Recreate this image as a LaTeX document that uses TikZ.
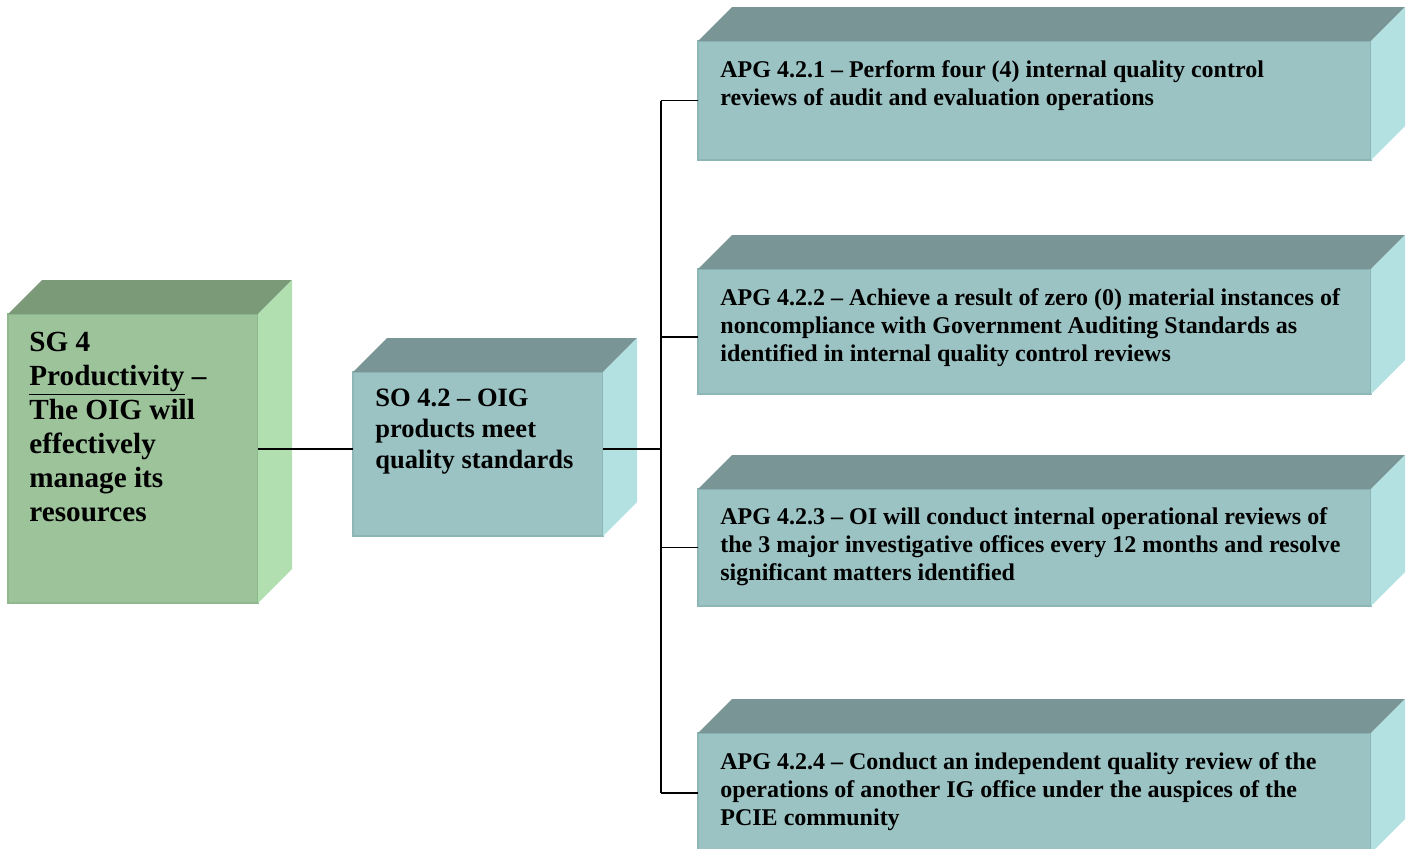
\documentclass[tikz,border=0pt]{standalone}
\usepackage{fontspec}
\setmainfont{Liberation Serif}
\usepackage{xcolor}
\definecolor{greenfront}{HTML}{9CC39A}
\definecolor{greentop}{HTML}{7A9A78}
\definecolor{greenside}{HTML}{B2DFB0}
\definecolor{tealfront}{HTML}{9BC3C4}
\definecolor{tealtop}{HTML}{799595}
\definecolor{tealside}{HTML}{B3E0E1}
\definecolor{tealedge}{HTML}{8DB6B7}
\definecolor{greenedge}{HTML}{8FB88D}

\begin{document}
\begin{tikzpicture}[
  x=0.5pt,
  y=-0.5pt,
  face/.style={rectangle, inner sep=0pt, outer sep=0pt, line width=0.8pt,
               minimum width=336.5pt},
  tealbox/.style={face, fill=tealfront, draw=tealedge},
  greenbox/.style={face, fill=greenfront, draw=greenedge,
                   minimum width=125pt, minimum height=144.5pt},
  top/.style={fill=#1},
  side/.style={fill=#1},
  apgtext/.style={anchor=north west, inner sep=0pt, align=left,
                  font=\fontsize{12}{14}\selectfont\bfseries},
  sotext/.style={anchor=north west, inner sep=0pt, align=left,
                 font=\fontsize{13.25}{15.5}\selectfont\bfseries},
  sgtext/.style={anchor=north west, inner sep=0pt, align=left,
                 font=\fontsize{14.6}{17}\selectfont\bfseries},
  link/.style={black, line width=0.9pt}
]
  \useasboundingbox (0,0) rectangle (1411,848);

  % ---- front faces ----
  \node[greenbox, anchor=north west] (sg) at (8,314) {};
  \node[tealbox, anchor=north west, minimum width=125pt,
        minimum height=82pt] (so) at (353,372) {};
  \node[tealbox, anchor=north west, minimum height=59.5pt] (apg1) at (698,41) {};
  \node[tealbox, anchor=north west, minimum height=62.5pt] (apg2) at (698,269) {};
  \node[tealbox, anchor=north west, minimum height=58.5pt] (apg3) at (698,489) {};
  \node[tealbox, anchor=north west, minimum height=60pt] (apg4) at (698,733) {};

  % ---- top and side faces ----
  \fill[top=greentop] (sg.north west) -- ++(34,-34)
    -- ([shift={(34,-34)}]sg.north east) -- (sg.north east) -- cycle;
  \fill[side=greenside] (sg.north east) -- ++(34,-34)
    -- ([shift={(34,-34)}]sg.south east) -- (sg.south east) -- cycle;
  \foreach \n in {so,apg1,apg2,apg3,apg4}{
    \fill[top=tealtop] (\n.north west) -- ++(34,-34)
      -- ([shift={(34,-34)}]\n.north east) -- (\n.north east) -- cycle;
    \fill[side=tealside] (\n.north east) -- ++(34,-34)
      -- ([shift={(34,-34)}]\n.south east) -- (\n.south east) -- cycle;
  }

  % ---- texts ----
  \node[sgtext] (sgt) at ([shift={(21,18)}]sg.north west)
    {SG 4\\ \underline{Productivity} --\\ The OIG will\\ effectively\\
     manage its\\ resources};
  \node[sotext] (sot) at ([shift={(22,17)}]so.north west)
    {SO 4.2 -- OIG\\ products meet\\ quality standards};
  \node[apgtext] (apg1t) at ([shift={(22,19)}]apg1.north west)
    {APG 4.2.1 -- Perform four (4) internal quality control\\
     reviews of audit and evaluation operations};
  \node[apgtext] (apg2t) at ([shift={(22,19)}]apg2.north west)
    {APG 4.2.2 -- Achieve a result of zero (0) material instances of\\
     noncompliance with Government Auditing Standards as\\
     identified in internal quality control reviews};
  \node[apgtext] (apg3t) at ([shift={(22,18)}]apg3.north west)
    {APG 4.2.3 -- OI will conduct internal operational reviews of\\
     the 3 major investigative offices every 12 months and resolve\\
     significant matters identified};
  \node[apgtext] (apg4t) at ([shift={(22,19)}]apg4.north west)
    {APG 4.2.4 -- Conduct an independent quality review of the\\
     operations of another IG office under the auspices of the\\
     PCIE community};

  % ---- connectors ----
  \coordinate (jn) at (661,449);
  \coordinate (b2) at ([yshift=-2.75pt]apg2.west);
  \draw[link] (sg.east |- jn) -- (so.west |- jn);
  \draw[link] (so.east |- jn) -- (jn);
  \draw[link] (jn |- apg1.west) -- (jn |- apg4.west);
  \foreach \n in {apg1,b2,apg3,apg4}
    \draw[link] (jn |- \n) -- (\n);
\end{tikzpicture}
\end{document}
